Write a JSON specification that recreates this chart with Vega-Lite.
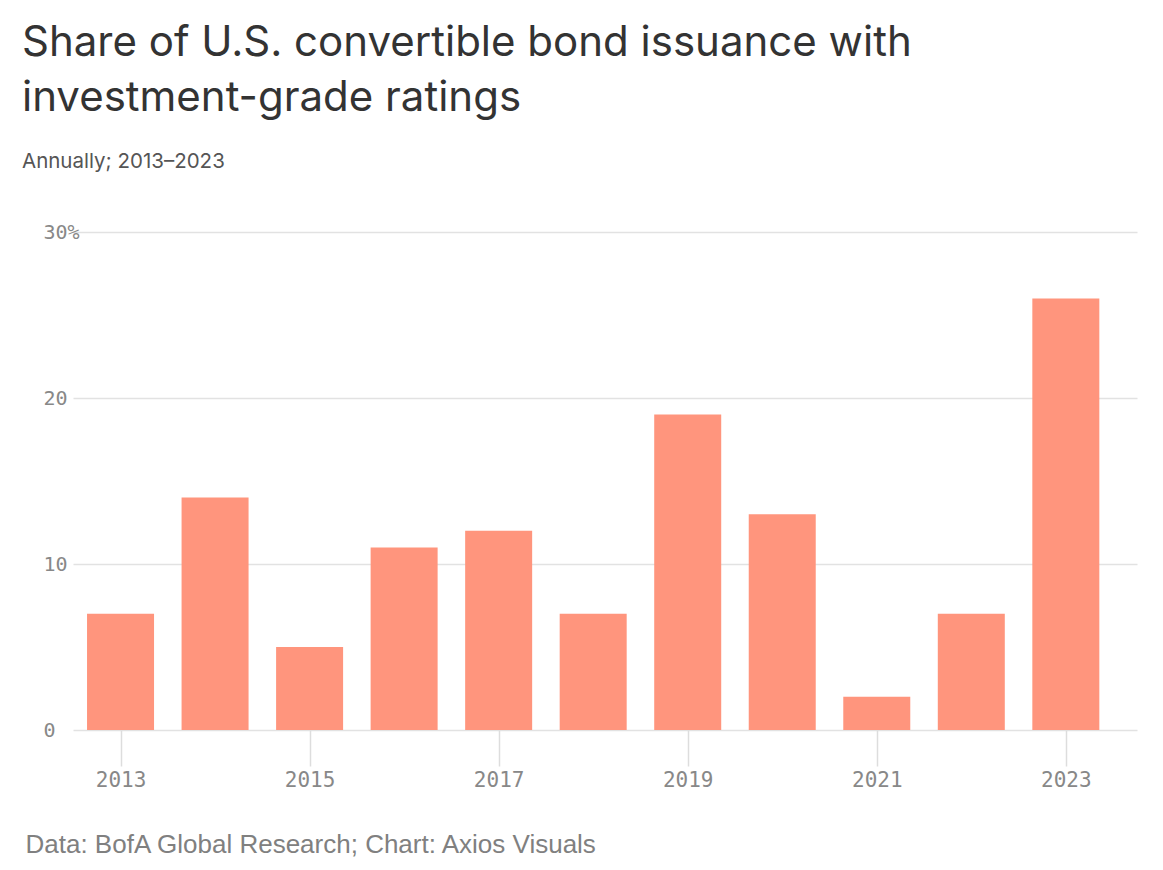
{
  "$schema": "https://vega.github.io/schema/vega-lite/v6.json",
  "width": 1064,
  "height": 498,
  "autosize": {"type": "none"},
  "padding": {"left": 73, "top": 232, "right": 26, "bottom": 140},
  "background": "white",
  "title": {
    "text": ["Share of U.S. convertible bond issuance with", "investment-grade ratings"],
    "subtitle": "Annually; 2013–2023",
    "anchor": "start",
    "frame": "group",
    "dx": -51,
    "offset": 49,
    "font": "Inter",
    "fontSize": 42,
    "fontWeight": "normal",
    "color": "#333333",
    "lineHeight": 55,
    "subtitleFont": "Inter",
    "subtitleFontSize": 20.5,
    "subtitleColor": "#555555",
    "subtitlePadding": 32
  },
  "data": {
    "values": [
      {"year": 2013, "share": 7},
      {"year": 2014, "share": 14},
      {"year": 2015, "share": 5},
      {"year": 2016, "share": 11},
      {"year": 2017, "share": 12},
      {"year": 2018, "share": 7},
      {"year": 2019, "share": 19},
      {"year": 2020, "share": 13},
      {"year": 2021, "share": 2},
      {"year": 2022, "share": 7},
      {"year": 2023, "share": 26}
    ]
  },
  "mark": {"type": "bar", "width": 67, "color": "#ff957d"},
  "encoding": {
    "x": {
      "field": "year",
      "type": "quantitative",
      "scale": {"domain": [2012.55, 2023.7], "nice": false, "zero": false},
      "axis": {
        "values": [2013, 2015, 2017, 2019, 2021, 2023],
        "format": "d",
        "domain": false,
        "grid": false,
        "tickSize": 36,
        "tickColor": "#dddddd",
        "tickWidth": 1.5,
        "labelFont": "DejaVu Sans Mono",
        "labelFontSize": 21,
        "labelColor": "#888888",
        "labelPadding": 3,
        "title": "Data: BofA Global Research; Chart: Axios Visuals",
        "titleFont": "Liberation Sans",
        "titleFontSize": 26,
        "titleFontWeight": "normal",
        "titleColor": "#808080",
        "titleAnchor": null,
        "titleAlign": "left",
        "titleBaseline": "alphabetic",
        "titleX": -48,
        "titleY": 122
      }
    },
    "y": {
      "field": "share",
      "type": "quantitative",
      "scale": {"domain": [0, 30], "nice": false},
      "axis": {
        "values": [0, 10, 20, 30],
        "labelExpr": "datum.value == 30 ? '30%' : datum.label",
        "domain": false,
        "ticks": false,
        "tickSize": 0,
        "grid": true,
        "gridColor": "#e2e2e2",
        "gridWidth": 1.5,
        "labelAlign": "left",
        "labelBaseline": "middle",
        "labelPadding": 30,
        "labelFont": "DejaVu Sans Mono",
        "labelFontSize": 20,
        "labelColor": "#888888",
        "title": null
      }
    }
  },
  "config": {"view": {"stroke": null}}
}
